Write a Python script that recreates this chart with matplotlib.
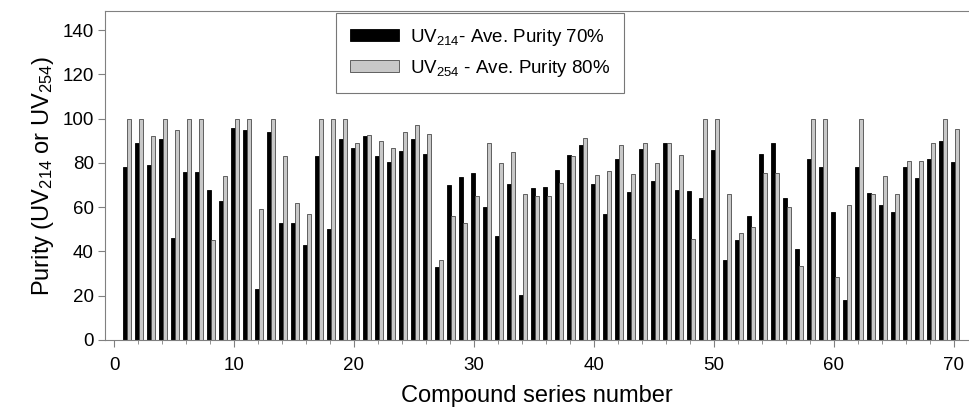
import numpy as np
import matplotlib.pyplot as plt
from matplotlib.ticker import MultipleLocator

plt.rcParams['font.family'] = ['Liberation Sans', 'DejaVu Sans']
plt.rcParams['mathtext.default'] = 'regular'

# purity per compound
compounds = np.arange(1, 71)
uv214 = [78, 89, 79, 91, 46, 76, 76, 68, 63, 96,
         95, 23, 94, 53, 53, 43, 83, 50, 91, 87,
         92, 83, 80.5, 85.5, 91, 84, 33, 70, 73.5, 75.5,
         60, 47, 70.5, 20.5, 68.5, 69, 77, 83.5, 88, 70.5,
         57, 82, 67, 86.5, 72, 89, 68, 67.5, 64, 86,
         36, 45, 56, 84, 89, 64, 41, 82, 78, 58,
         18, 78, 66.5, 61, 58, 78, 73, 82, 90, 80.5]
uv254 = [100, 100, 92, 100, 95, 100, 100, 45, 74, 100,
         100, 59, 100, 83, 62, 57, 100, 100, 100, 89,
         92.5, 90, 87, 94, 97, 93, 36, 56, 53, 65,
         89, 80, 85, 66, 65, 65, 71, 83, 91.5, 74.5,
         76.5, 88, 75, 89, 80, 89, 83.5, 45.5, 100, 100,
         66, 48.5, 51, 75.5, 75.5, 60, 33.5, 100, 100, 28.5,
         61, 100, 66, 74, 66, 81, 81, 89, 100, 95.5]

fig = plt.figure(figsize=(9.69, 4.18), dpi=100)
ax = fig.add_axes([105/969, 78/418, 864/969, 329/418])

w = 0.32
ax.bar(compounds - 0.11, uv214, width=w, color='black', edgecolor='black', linewidth=0.6,
       label='UV$_{214}$- Ave. Purity 70%')
ax.bar(compounds + 0.22, uv254, width=w, color='#c8c8c8', edgecolor='#4a4a4a', linewidth=0.6,
       label='UV$_{254}$ - Ave. Purity 80%')

ax.set_xlim(-0.75, 71.25)
ax.set_ylim(0, 148.7)
ax.xaxis.set_major_locator(MultipleLocator(10))
ax.xaxis.set_minor_locator(MultipleLocator(2))
ax.yaxis.set_major_locator(MultipleLocator(20))

for s in ['left', 'top', 'bottom']:
    ax.spines[s].set_color('#808080')
ax.spines['right'].set_visible(False)
ax.tick_params(axis='both', which='both', color='#808080', direction='out', labelsize=13.5)
ax.tick_params(axis='x', which='major', length=5, pad=7)
ax.tick_params(axis='x', which='minor', length=3)
ax.tick_params(axis='y', which='major', length=5, pad=3)

ax.set_xlabel('Compound series number', fontsize=17, labelpad=8)
ax.set_ylabel('Purity (UV$_{214}$ or UV$_{254}$)', fontsize=17, labelpad=5)

leg = ax.legend(loc='upper left', bbox_to_anchor=(231/864, 0.995), borderaxespad=0,
                fontsize=13.5, frameon=True, fancybox=False, edgecolor='#555555',
                handlelength=2.6, handleheight=0.6, borderpad=0.75, labelspacing=0.55,
                handletextpad=0.6)
leg.get_frame().set_linewidth(0.8)

plt.savefig('out.png', dpi=100)
